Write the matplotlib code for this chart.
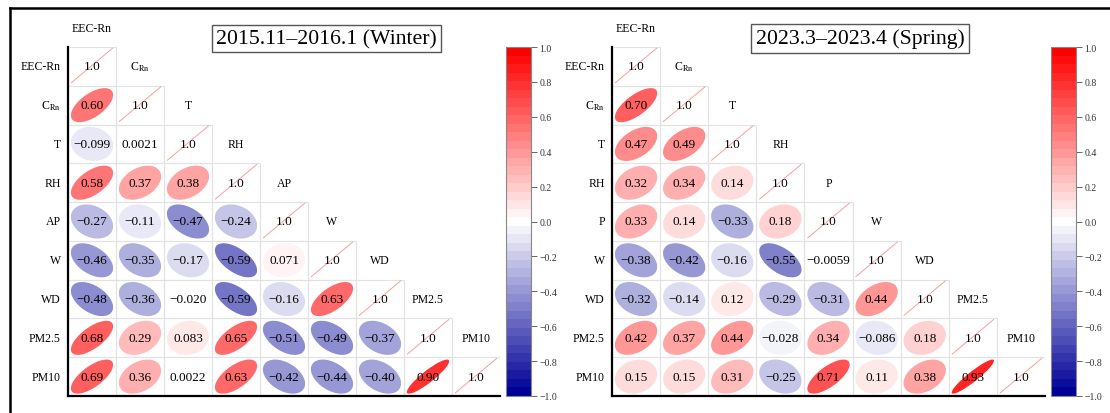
import numpy as np
import matplotlib
matplotlib.use("Agg")
import matplotlib.pyplot as plt
from matplotlib.patches import Ellipse, Rectangle
from matplotlib.colors import LinearSegmentedColormap, Normalize
from matplotlib.lines import Line2D
import matplotlib.cm as cm

plt.rcParams['font.family'] = ['Liberation Serif', 'DejaVu Serif']
plt.rcParams['mathtext.fontset'] = 'stix'

# ---------------- data ----------------
labels_winter = ["EEC-Rn", "C$_{\\mathrm{Rn}}$", "T", "RH", "AP", "W", "WD", "PM2.5", "PM10"]
labels_spring = ["EEC-Rn", "C$_{\\mathrm{Rn}}$", "T", "RH", "P", "W", "WD", "PM2.5", "PM10"]

# lower-triangle rows (row i has i values, columns 0..i-1)
winter_rows = [
    [],
    [0.60],
    [-0.099, 0.0021],
    [0.58, 0.37, 0.38],
    [-0.27, -0.11, -0.47, -0.24],
    [-0.46, -0.35, -0.17, -0.59, 0.071],
    [-0.48, -0.36, -0.020, -0.59, -0.16, 0.63],
    [0.68, 0.29, 0.083, 0.65, -0.51, -0.49, -0.37],
    [0.69, 0.36, 0.0022, 0.63, -0.42, -0.44, -0.40, 0.90],
]
spring_rows = [
    [],
    [0.70],
    [0.47, 0.49],
    [0.32, 0.34, 0.14],
    [0.33, 0.14, -0.33, 0.18],
    [-0.38, -0.42, -0.16, -0.55, -0.0059],
    [-0.32, -0.14, 0.12, -0.29, -0.31, 0.44],
    [0.42, 0.37, 0.44, -0.028, 0.34, -0.086, 0.18],
    [0.15, 0.15, 0.31, -0.25, 0.71, 0.11, 0.38, 0.93],
]
title_winter = "2015.11\u20132016.1 (Winter)"
title_spring = "2023.3\u20132023.4 (Spring)"
cbar_ticks = [-1.0, -0.8, -0.6, -0.4, -0.2, 0.0, 0.2, 0.4, 0.6, 0.8, 1.0]

# ---------------- style ----------------
W, H = 1110, 414
cmap = LinearSegmentedColormap.from_list("bwr_dark", ["#000096", "#ffffff", "#ff0000"], N=41)
norm = Normalize(-1, 1)


def fmt(v):
    if v == 1.0:
        return "1.0"
    dec = 1 - int(np.floor(np.log10(abs(v))))
    s = f"{v:.{dec}f}"
    return s.replace("-", "\u2212")


def px_axes(fig, x0, y0, x1, y1):
    return fig.add_axes([x0 / W, 1 - y1 / H, (x1 - x0) / W, (y1 - y0) / H])


def draw_panel(fig, rect, labels, rows, title, title_xy, cbar_rect):
    ax = px_axes(fig, *rect)
    n = len(labels)
    ax.set_xlim(0, n)
    ax.set_ylim(n, 0)
    ax.set_xticks([])
    ax.set_yticks([])
    for s in ["top", "right"]:
        ax.spines[s].set_visible(False)
    for s in ["left", "bottom"]:
        ax.spines[s].set_linewidth(1.6)
        ax.spines[s].set_color("black")
        ax.spines[s].set_zorder(5)
    k = 0.44
    for i in range(n):
        for j in range(i + 1):
            ax.add_patch(Rectangle((j, i), 1, 1, facecolor="none",
                                   edgecolor="#e2e2e2", lw=0.8, zorder=1))
            if i == j:
                ax.add_line(Line2D([j + 0.07, j + 0.93], [i + 0.92, i + 0.03],
                                   color="#f4a0a0", lw=0.7, zorder=2))
                ax.text(j + 0.5, i + 0.5, "1.0", ha="center", va="center",
                        fontsize=9.5, zorder=4)
            else:
                r = rows[i][j]
                a = k * np.sqrt(1 + abs(r))
                b = k * np.sqrt(1 - abs(r))
                ang = -45 if r > 0 else 45  # y axis inverted
                ax.add_patch(Ellipse((j + 0.5, i + 0.5), 2 * a, 2 * b, angle=ang,
                                     facecolor=cmap(norm(r)), edgecolor="none",
                                     alpha=0.9, zorder=2))
                ax.text(j + 0.5, i + 0.5, fmt(r), ha="center", va="center",
                        fontsize=9.5, zorder=4)
    # row labels
    for i, lab in enumerate(labels):
        ax.text(-0.15, i + 0.5, lab, ha="right", va="center", fontsize=8.5,
                clip_on=False)
    # column labels
    for j, lab in enumerate(labels):
        ax.text(j + 0.5, j - 0.5, lab, ha="center", va="center", fontsize=8.5,
                clip_on=False)
    # title box
    fig.text(title_xy[0] / W, 1 - title_xy[1] / H, title, ha="center", va="center",
             fontsize=15.7,
             bbox=dict(boxstyle="square,pad=0.2", facecolor="white",
                       edgecolor="#555555", lw=1.0))
    # colorbar
    cax = px_axes(fig, *cbar_rect)
    cb = fig.colorbar(cm.ScalarMappable(norm=norm, cmap=cmap), cax=cax,
                      ticks=cbar_ticks)
    cb.outline.set_edgecolor("#888888")
    cb.outline.set_linewidth(0.8)
    cax.tick_params(labelsize=7, length=4, width=0.7, color="#666666",
                    labelcolor="#333333", pad=2)
    cax.set_yticklabels([f"{t:.1f}".replace("-", "\u2212") for t in cbar_ticks])


fig = plt.figure(figsize=(W / 100, H / 100), dpi=100)

draw_panel(fig, (68, 48, 500, 397), labels_winter, winter_rows, title_winter,
           (326.5, 39.5), (506, 48, 531, 397))
draw_panel(fig, (612, 48, 1045, 397), labels_spring, spring_rows, title_spring,
           (860, 39.5), (1051, 48, 1076, 397))

# outer frame lines
fig.add_artist(Line2D([10 / W, 1.0], [1 - 9 / H, 1 - 9 / H], color="black",
                      lw=1.8, transform=fig.transFigure))
fig.add_artist(Line2D([10 / W, 10 / W], [0, 1 - 9 / H], color="black",
                      lw=1.8, transform=fig.transFigure))

fig.savefig("out.png", dpi=100)
